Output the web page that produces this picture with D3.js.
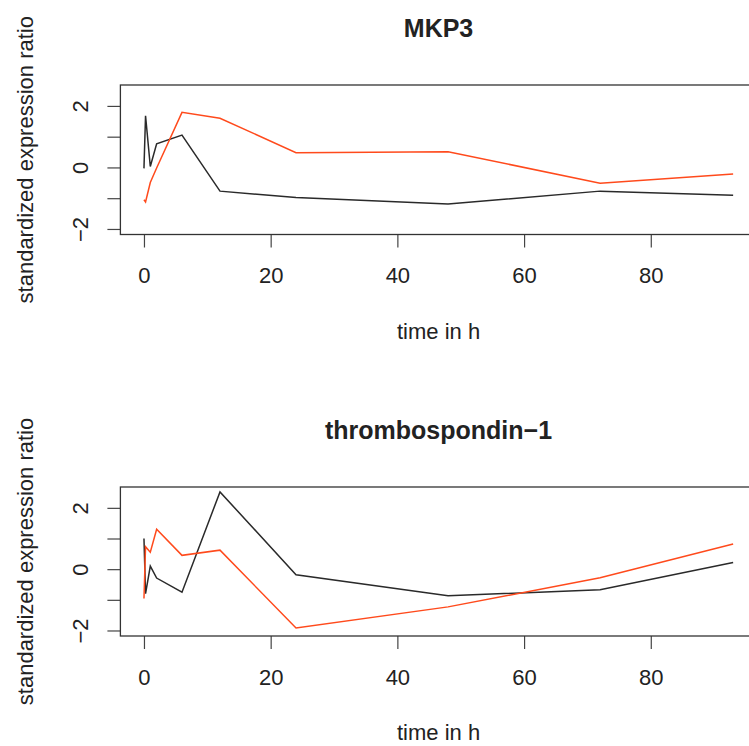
<!DOCTYPE html>
<html>
<head>
<meta charset="utf-8">
<script src="https://cdn.jsdelivr.net/npm/d3@7"></script>
<style>
  html, body { margin: 0; padding: 0; background: #fff; }
  svg { display: block; }
  text { font-family: "Liberation Sans", Arial, Helvetica, sans-serif; fill: #222; }
</style>
</head>
<body>
<svg id="chart" width="749" height="746"></svg>
<script>
// ---- data ----
const time = [0, 0.25, 1, 2, 6, 12, 24, 48, 72, 93];
const mkp3Black  = [-0.03, 1.68, 0.03, 0.77, 1.05, -0.77, -0.98, -1.19, -0.77, -0.90];
const mkp3Orange = [-1.05, -1.12, -0.49, -0.02, 1.79, 1.60, 0.48, 0.51, -0.51, -0.21];
const thbsBlack  = [1.00, -0.80, 0.10, -0.29, -0.75, 2.52, -0.18, -0.87, -0.67, 0.22];
const thbsOrange = [-0.96, 0.73, 0.55, 1.30, 0.45, 0.62, -1.92, -1.23, -0.28, 0.82];
const panelTitles = ["MKP3", "thrombospondin\u22121"];
const xTicks = [0, 20, 40, 60, 80];
const yTicks = [-2, -1, 0, 1, 2];
const yTickLabels = {"-2": "\u22122", "0": "0", "2": "2"};
const xLabel = "time in h";
const yLabel = "standardized expression ratio";
const ylim = [-2, 2.5];

const panels = [
  {title: panelTitles[0], black: mkp3Black, orange: mkp3Orange, top: 85, bottom: 234.5},
  {title: panelTitles[1], black: thbsBlack, orange: thbsOrange, top: 487, bottom: 636}
];

const svg = d3.select("#chart");
svg.append("rect").attr("width", 749).attr("height", 746).attr("fill", "#fff");

const xr = d3.extent(time);
const xpad = (xr[1] - xr[0]) * 0.04;
const ypad = (ylim[1] - ylim[0]) * 0.04;
const left = 120.4, right = 756.7;

panels.forEach(p => {
  const g = svg.append("g");
  const x = d3.scaleLinear().domain([xr[0] - xpad, xr[1] + xpad]).range([left, right]);
  const y = d3.scaleLinear().domain([ylim[0] - ypad, ylim[1] + ypad]).range([p.bottom, p.top]);

  // x axis
  const xa = g.append("g").attr("transform", `translate(0,${p.bottom})`)
    .call(d3.axisBottom(x).tickValues(xTicks).tickSize(13).tickPadding(20).tickFormat(d3.format("d")));
  xa.select(".domain").remove();
  xa.selectAll(".tick line").attr("stroke", "#444").attr("stroke-width", 1.2);
  xa.selectAll(".tick text").attr("font-size", 22).attr("fill", "#222")
    .attr("font-family", "Liberation Sans, Arial, sans-serif");

  // y axis
  const ya = g.append("g").attr("transform", `translate(${left},0)`)
    .call(d3.axisLeft(y).tickValues(yTicks).tickSize(13).tickFormat(d => yTickLabels[String(d)] || ""));
  ya.select(".domain").remove();
  ya.selectAll(".tick line").attr("stroke", "#444").attr("stroke-width", 1.2);
  ya.selectAll(".tick text")
    .attr("font-size", 22).attr("fill", "#222")
    .attr("font-family", "Liberation Sans, Arial, sans-serif")
    .attr("x", null).attr("dy", null)
    .attr("text-anchor", "middle")
    .attr("transform", `translate(${88 - left},0) rotate(-90)`);

  // lines
  const line = d3.line().x((d, i) => x(time[i])).y(d => y(d));
  g.append("path").datum(p.black).attr("d", line)
    .attr("fill", "none").attr("stroke", "#2a2a2a").attr("stroke-width", 1.5).attr("stroke-linejoin", "miter");
  g.append("path").datum(p.orange).attr("d", line)
    .attr("fill", "none").attr("stroke", "#ff4a1c").attr("stroke-width", 1.5).attr("stroke-linejoin", "miter");

  // box
  g.append("rect").attr("x", left).attr("y", p.top)
    .attr("width", right - left).attr("height", p.bottom - p.top)
    .attr("fill", "none").attr("stroke", "#333").attr("stroke-width", 1.3);

  // title
  g.append("text").attr("x", (left + right) / 2).attr("y", p.top - 48)
    .attr("text-anchor", "middle").attr("font-size", 25).attr("font-weight", "bold")
    .text(p.title);

  // x label
  g.append("text").attr("x", (left + right) / 2).attr("y", p.bottom + 104)
    .attr("text-anchor", "middle").attr("font-size", 22).text(xLabel);

  // y label
  g.append("text")
    .attr("transform", `translate(33,${(p.top + p.bottom) / 2}) rotate(-90)`)
    .attr("text-anchor", "middle").attr("font-size", 22).text(yLabel);
});
</script>
</body>
</html>
